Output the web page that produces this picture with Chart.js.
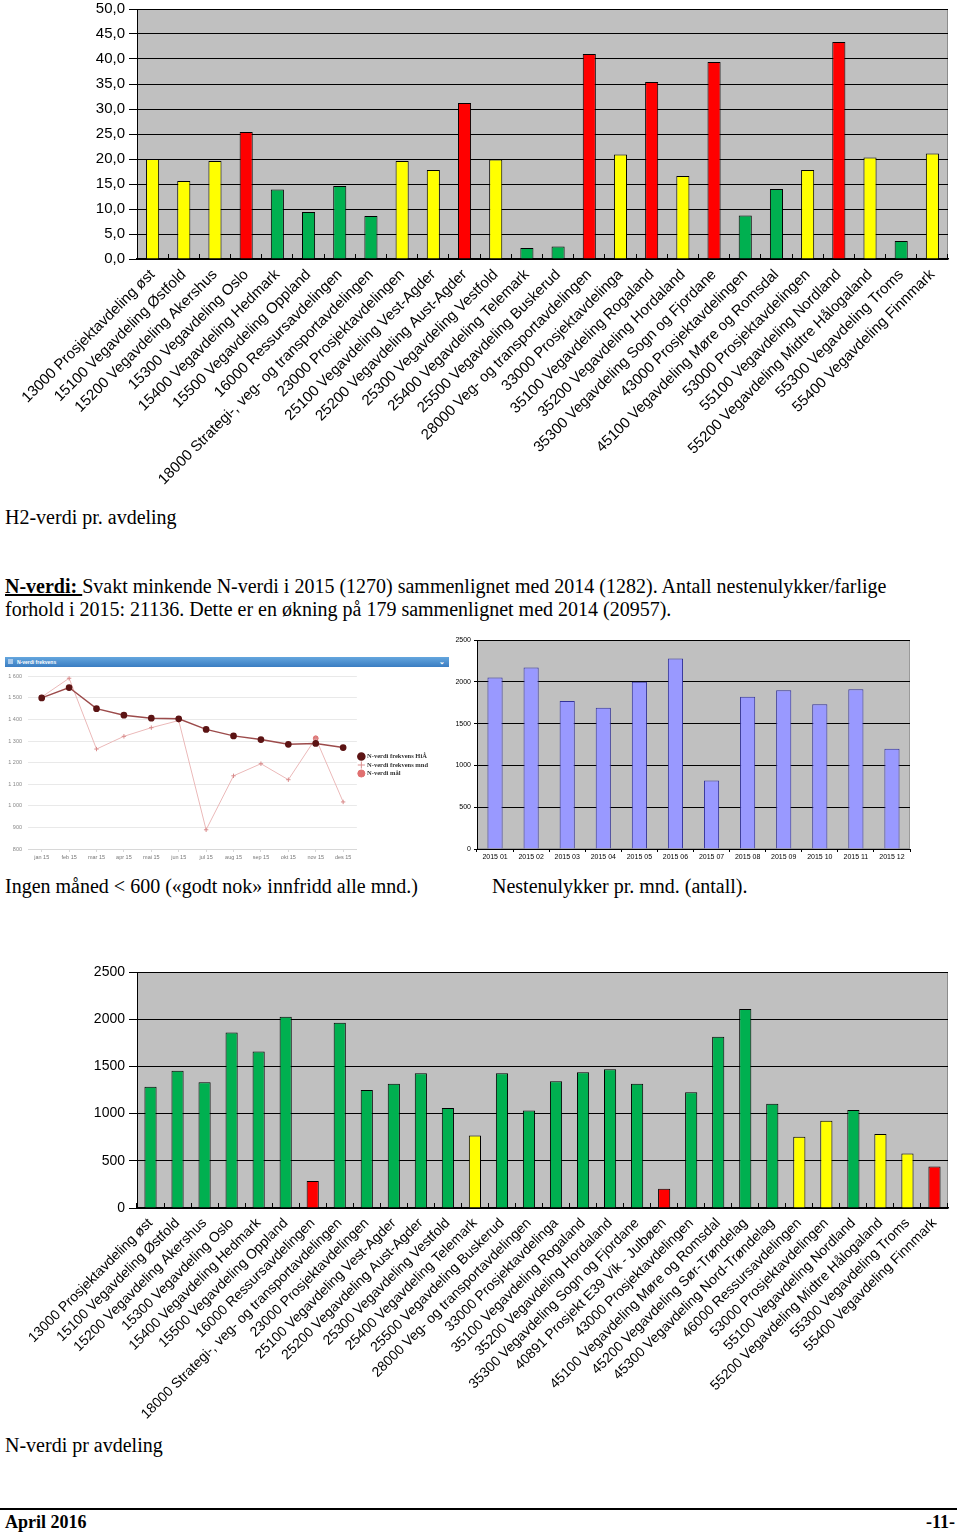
<!DOCTYPE html>
<html>
<head>
<meta charset="utf-8">
<script src="https://cdn.jsdelivr.net/npm/chart.js@4.4.1/dist/chart.umd.min.js"></script>
<style>
body { margin: 0; background: #fff; width: 960px; height: 1534px; position: relative; overflow: hidden;
       font-family: "Liberation Serif", "Times New Roman", serif; color: #000; }
.abs { position: absolute; }
.txt { font-size: 20px; line-height: 23px; white-space: nowrap; }
canvas { position: absolute; }
#widget { left: 3px; top: 655px; width: 448px; height: 208px; background: #fff; }
#widget .head { position: absolute; left: 2px; top: 2px; width: 444px; height: 10px;
                background: linear-gradient(#64a6de, #3a7dc2); color: #fff;
                font: bold 5px "Liberation Sans", sans-serif; line-height: 10px; }
#widget .head span { position: absolute; left: 12px; }
#widget .head i { position: absolute; left: 3px; top: 2px; width: 5px; height: 5px; background: #a9c9ea; }
#widget .head b { position: absolute; right: 4px; top: 0; font-size: 7px; }
.foot { font-weight: bold; font-size: 18px; line-height: 20px; }
</style>
</head>
<body>

<canvas id="h2Chart" width="960" height="495" style="left:0;top:0"></canvas>
<div class="abs txt" style="left:5px;top:506px">H2-verdi pr. avdeling</div>
<div class="abs txt" style="left:5px;top:575px"><b><u>N-verdi: </u></b>Svakt minkende N-verdi i 2015 (1270) sammenlignet med 2014 (1282). Antall nestenulykker/farlige<br>forhold i 2015: 21136. Dette er en økning på 179 sammenlignet med 2014 (20957).</div>

<div id="widget" class="abs">
  <div class="head"><i></i><span>N-verdi frekvens</span><b>&#8964;</b></div>
  <canvas id="trendChart" width="447" height="196" style="left:0;top:12px"></canvas>
</div>
<canvas id="monthChart" width="470" height="238" style="left:450px;top:630px"></canvas>

<div class="abs txt" style="left:5px;top:875px">Ingen måned &lt; 600 («godt nok» innfridd alle mnd.)</div>
<div class="abs txt" style="left:492px;top:875px">Nestenulykker pr. mnd. (antall).</div>

<canvas id="nChart" width="960" height="470" style="left:0;top:960px"></canvas>
<div class="abs txt" style="left:5px;top:1434px">N-verdi pr avdeling</div>

<div class="abs" style="left:0;top:1508px;width:957px;height:2px;background:#000"></div>
<div class="abs foot" style="left:5px;top:1512px">April 2016</div>
<div class="abs foot" style="right:5px;top:1512px">-11-</div>

<script>
// H2-verdi pr. avdeling
const h2Labels = [
    "13000 Prosjektavdeling øst", "15100 Vegavdeling Østfold", "15200 Vegavdeling Akershus",
    "15300 Vegavdeling Oslo", "15400 Vegavdeling Hedmark", "15500 Vegavdeling Oppland",
    "16000 Ressursavdelingen", "18000 Strategi-, veg- og transportavdelingen", "23000 Prosjektavdelingen",
    "25100 Vegavdeling Vest-Agder", "25200 Vegavdeling Aust-Agder", "25300 Vegavdeling Vestfold",
    "25400 Vegavdeling Telemark", "25500 Vegavdeling Buskerud", "28000 Veg- og transportavdelingen",
    "33000 Prosjektavdelinga", "35100 Vegavdeling Rogaland", "35200 Vegavdeling Hordaland",
    "35300 Vegavdeling Sogn og Fjordane", "43000 Prosjektavdelingen", "45100 Vegavdeling Møre og Romsdal",
    "53000 Prosjektavdelingen", "55100 Vegavdeling Nordland", "55200 Vegavdeling Midtre Hålogaland",
    "55300 Vegavdeling Troms", "55400 Vegavdeling Finnmark"
];
const h2Values = [20.0, 15.6, 19.6, 25.4, 13.9, 9.4, 14.6, 8.6, 19.6, 17.8, 31.2, 19.9, 2.2,
                  2.5, 41.0, 20.9, 35.4, 16.6, 39.4, 8.7, 14.0, 17.8, 43.4, 20.3, 3.6, 21.1];

// N-verdi frekvens (line widget)
const trendMonths = ["jan 15", "feb 15", "mar 15", "apr 15", "mai 15", "jun 15",
                     "jul 15", "aug 15", "sep 15", "okt 15", "nov 15", "des 15"];
const trendRolling = [1500, 1548, 1450, 1420, 1406, 1403, 1354, 1324, 1307, 1285, 1289, 1270];
const trendMonthly = [1504, 1591, 1263, 1322, 1362, 1395, 889, 1139, 1195, 1121, 1313, 1018];
const trendTarget = [1500, null, null, null, null, null, null, null, null, null, 1313, null];

// Nestenulykker pr. mnd.
const monthLabels = ["2015 01", "2015 02", "2015 03", "2015 04", "2015 05", "2015 06",
                     "2015 07", "2015 08", "2015 09", "2015 10", "2015 11", "2015 12"];
const monthValues = [2050, 2170, 1770, 1690, 2000, 2280, 820, 1820, 1900, 1730, 1910, 1200];

// N-verdi pr avdeling
const nLabels = [
    "13000 Prosjektavdeling øst", "15100 Vegavdeling Østfold", "15200 Vegavdeling Akershus",
    "15300 Vegavdeling Oslo", "15400 Vegavdeling Hedmark", "15500 Vegavdeling Oppland",
    "16000 Ressursavdelingen", "18000 Strategi-, veg- og transportavdelingen", "23000 Prosjektavdelingen",
    "25100 Vegavdeling Vest-Agder", "25200 Vegavdeling Aust-Agder", "25300 Vegavdeling Vestfold",
    "25400 Vegavdeling Telemark", "25500 Vegavdeling Buskerud", "28000 Veg- og transportavdelingen",
    "33000 Prosjektavdelinga", "35100 Vegavdeling Rogaland", "35200 Vegavdeling Hordaland",
    "35300 Vegavdeling Sogn og Fjordane", "40891 Prosjekt E39 Vik - Julbøen", "43000 Prosjektavdelingen",
    "45100 Vegavdeling Møre og Romsdal", "45200 Vegavdeling Sør-Trøndelag", "45300 Vegavdeling Nord-Trøndelag",
    "46000 Ressursavdelingen", "53000 Prosjektavdelingen", "55100 Vegavdeling Nordland",
    "55200 Vegavdeling Midtre Hålogaland", "55300 Vegavdeling Troms", "55400 Vegavdeling Finnmark"
];
const nValues = [1285, 1455, 1331, 1859, 1657, 2025, 287, 1962, 1250, 1317, 1427, 1059, 768, 1427, 1034,
                 1342, 1438, 1470, 1317, 205, 1225, 1813, 2107, 1105, 754, 924, 1038, 783, 577, 439];

const RED = "#ff0000", YELLOW = "#ffff00", GREEN = "#00b050";
const SANS = "'Liberation Sans', Arial, sans-serif";

// grått plottområde som i Excel
const plotBackground = {
    id: "plotBackground",
    beforeDraw(chart, args, opts) {
        if (!opts.color) return;
        const { ctx, chartArea: a } = chart;
        ctx.save();
        ctx.fillStyle = opts.color;
        ctx.fillRect(a.left, a.top, a.width, a.height);
        if (opts.frame) {
            ctx.strokeStyle = opts.frame;
            ctx.lineWidth = 1;
            ctx.strokeRect(a.left + 0.5, a.top + 0.5, a.width - 1, a.height - 1);
        }
        ctx.restore();
    }
};
Chart.register(plotBackground);
Chart.defaults.font.family = SANS;
Chart.defaults.color = "#000";

function departmentChart(id, labels, values, colourOf, opts) {
    new Chart(document.getElementById(id), {
        type: "bar",
        data: {
            labels,
            datasets: [{
                data: values,
                backgroundColor: values.map(colourOf),
                borderColor: "#000",
                borderWidth: 1,
                categoryPercentage: 1,
                barPercentage: opts.barPct
            }]
        },
        options: {
            responsive: false,
            animation: false,
            layout: { padding: { top: opts.top, right: 12, left: 0, bottom: 0 } },
            plugins: {
                legend: { display: false },
                tooltip: { enabled: false },
                plotBackground: { color: "#c0c0c0", frame: "#8c8c8c" }
            },
            scales: {
                x: {
                    afterFit: s => { s.height = opts.axisHeight; },
                    grid: { drawOnChartArea: false, drawTicks: true, tickLength: -5, color: "#000" },
                    border: { color: "#000", width: 1.5 },
                    ticks: { autoSkip: false, minRotation: 45, maxRotation: 45, padding: 12,
                             font: { size: opts.xFont } }
                },
                y: {
                    min: 0, max: opts.max,
                    afterFit: s => { s.width = 137; s.paddingTop = 0; },
                    grid: { color: "#000", lineWidth: 1, tickLength: 8 },
                    border: { color: "#000", width: 1 },
                    ticks: { stepSize: opts.step, padding: 4, font: { size: opts.yFont },
                             callback: opts.fmt }
                }
            }
        }
    });
}

departmentChart("h2Chart", h2Labels, h2Values,
    v => v >= 25 ? RED : v >= 15 ? YELLOW : GREEN,
    { barPct: 0.42, top: 9, axisHeight: 236, max: 50, step: 5, xFont: 15, yFont: 15,
      fmt: v => v.toFixed(1).replace(".", ",") });

departmentChart("nChart", nLabels, nValues,
    v => v < 500 ? RED : v < 1000 ? YELLOW : GREEN,
    { barPct: 0.45, top: 12, axisHeight: 222, max: 2500, step: 500, xFont: 14, yFont: 14,
      fmt: v => String(v) });

// Nestenulykker pr. mnd.
new Chart(document.getElementById("monthChart"), {
    type: "bar",
    data: {
        labels: monthLabels,
        datasets: [{
            data: monthValues,
            backgroundColor: "#9999ff",
            borderColor: "#333399",
            borderWidth: 1,
            categoryPercentage: 1,
            barPercentage: 0.42
        }]
    },
    options: {
        responsive: false,
        animation: false,
        layout: { padding: { top: 10, right: 10, left: 0, bottom: 0 } },
        plugins: {
            legend: { display: false },
            tooltip: { enabled: false },
            plotBackground: { color: "#c0c0c0", frame: "#9a9a9a" }
        },
        scales: {
            x: {
                afterFit: s => { s.height = 19; },
                grid: { drawOnChartArea: false, tickLength: 3, color: "#000" },
                border: { color: "#000", width: 1 },
                ticks: { maxRotation: 0, autoSkip: false, padding: 1, font: { size: 7 } }
            },
            y: {
                min: 0, max: 2500,
                afterFit: s => { s.width = 27; },
                grid: { color: "#000", lineWidth: 1, tickLength: 3 },
                border: { color: "#000", width: 1 },
                ticks: { stepSize: 500, padding: 3, font: { size: 7 }, callback: v => String(v) }
            }
        }
    }
});

// N-verdi frekvens
new Chart(document.getElementById("trendChart"), {
    type: "line",
    data: {
        labels: trendMonths,
        datasets: [
            {
                label: "N-verdi frekvens HiÅ",
                data: trendRolling,
                borderColor: "#9c4b4b",
                borderWidth: 1.5,
                pointRadius: 2.6,
                pointBackgroundColor: "#5c1414",
                pointBorderColor: "#5c1414",
                tension: 0
            },
            {
                label: "N-verdi frekvens mnd",
                data: trendMonthly,
                borderColor: "#ebb9b9",
                borderWidth: 1,
                pointStyle: "cross",
                pointRadius: 2.2,
                pointBorderColor: "#d98c8c",
                pointBorderWidth: 1,
                tension: 0
            },
            {
                label: "N-verdi mål",
                data: trendTarget,
                showLine: false,
                pointRadius: 2.4,
                pointBackgroundColor: "#e07070",
                pointBorderColor: "#e07070"
            }
        ]
    },
    options: {
        responsive: false,
        animation: false,
        layout: { padding: { top: 0, right: 12, left: 0, bottom: 0 } },
        plugins: {
            tooltip: { enabled: false },
            legend: {
                position: "right",
                labels: {
                    usePointStyle: true, boxWidth: 5, boxHeight: 5, padding: 2,
                    color: "#333",
                    font: { size: 6.5, weight: "bold", family: "'Liberation Serif', serif" }
                }
            }
        },
        scales: {
            x: {
                offset: true,
                afterFit: s => { s.height = 14; },
                grid: { drawOnChartArea: false, tickLength: 3, color: "#d8d8d8" },
                border: { color: "#d8d8d8" },
                ticks: { color: "#777", padding: 2, font: { size: 5.5 } }
            },
            y: {
                min: 800, max: 1600,
                afterFit: s => { s.width = 25; },
                grid: { color: "#e9e9e9", drawTicks: false },
                border: { display: false },
                ticks: { stepSize: 100, color: "#888", padding: 6, font: { size: 5.5 },
                         callback: v => v >= 1000 ? Math.floor(v / 1000) + " " + String(v % 1000).padStart(3, "0") : v }
            }
        }
    }
});
</script>
</body>
</html>
